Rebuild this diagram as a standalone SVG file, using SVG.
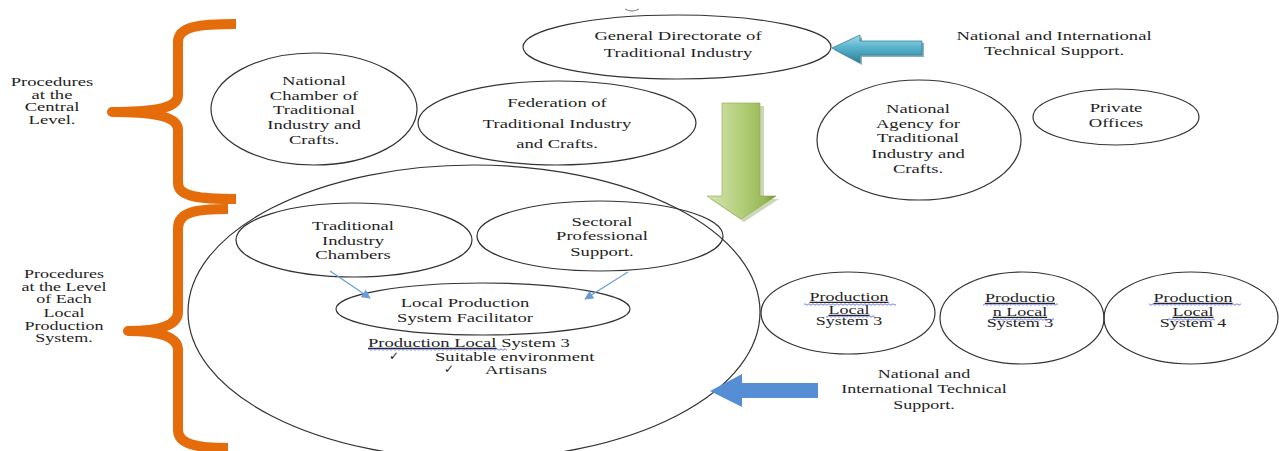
<svg xmlns="http://www.w3.org/2000/svg" width="1279" height="451" viewBox="0 0 1279 451">
<defs>
<style>
.t{font-family:"Liberation Serif","Times New Roman",serif;font-size:12px;fill:#1e1e1e;text-anchor:middle}
.ts{font-family:"Liberation Serif","Times New Roman",serif;font-size:12px;fill:#1e1e1e;text-anchor:start}
.ck{font-family:"DejaVu Sans",sans-serif;font-size:12px;fill:#1e1e1e}
.node{fill:none;stroke:#333;stroke-width:1.2}
.brace{fill:none;stroke:#E46C0A;stroke-width:10;stroke-linejoin:round}
.link{stroke:#6B9BD8;stroke-width:1.2;fill:none;marker-end:url(#ah)}
.u{text-decoration:underline}
</style>
<marker id="ah" viewBox="0 0 10 10" refX="9" refY="5" markerWidth="11" markerHeight="9" orient="auto" markerUnits="userSpaceOnUse"><path d="M0,0 L10,5 L0,10 z" fill="#6B9BD8"/></marker>
<pattern id="wv" width="4" height="3" patternUnits="userSpaceOnUse"><path d="M0,1.5 Q1,0 2,1.5 T4,1.5" fill="none" stroke="#3344dd" stroke-width="0.7"/></pattern>
<linearGradient id="gg" x1="0" y1="0" x2="1" y2="0"><stop offset="0" stop-color="#d6e6b4"/><stop offset="0.5" stop-color="#b2ce78"/><stop offset="0.85" stop-color="#98b756"/><stop offset="1" stop-color="#6e8e30"/></linearGradient>
<linearGradient id="tg" x1="0" y1="0" x2="0" y2="1"><stop offset="0" stop-color="#a2d8e8"/><stop offset="0.45" stop-color="#58b3cc"/><stop offset="1" stop-color="#2e8198"/></linearGradient>
</defs>
<rect width="1279" height="451" fill="#fff"/>

<g id="braces">
<path class="brace" d="M236,24 C200,24 178,26 178,42 L178,95 C178,107 160,112 112,112 C160,112 178,118 178,130 L178,183 C178,197 200,199 236,199"/>
<path class="brace" d="M228,209 C196,209 178,212 178,228 L178,312 C178,325 160,331 128,331 C160,331 178,337 178,350 L178,430 C178,444 196,448 228,448"/>
</g>

<path d="M625,9 Q632,13 639,9" fill="none" stroke="#777" stroke-width="1"/>

<g id="label-central"><text class="t" transform="translate(52 0) scale(1.55 1)"><tspan x="0" y="86">Procedures</tspan><tspan x="0" y="99">at the</tspan><tspan x="0" y="111">Central</tspan><tspan x="0" y="124">Level.</tspan></text></g>

<g id="label-local"><text class="t" transform="translate(64 0) scale(1.5 1)"><tspan x="0" y="278">Procedures</tspan><tspan x="0" y="291">at the Level</tspan><tspan x="0" y="303">of Each</tspan><tspan x="0" y="317">Local</tspan><tspan x="0" y="330">Production</tspan><tspan x="0" y="342">System.</tspan></text></g>

<g id="general-directorate"><ellipse class="node" cx="677" cy="47" rx="154" ry="32"/><text class="t" transform="translate(678 0) scale(1.55 1)"><tspan x="0" y="40">General Directorate of</tspan><tspan x="0" y="57">Traditional Industry</tspan></text></g>

<g id="national-chamber"><ellipse class="node" cx="314" cy="109" rx="103" ry="56"/><text class="t" transform="translate(314 0) scale(1.55 1)"><tspan x="0" y="85">National</tspan><tspan x="0" y="100">Chamber of</tspan><tspan x="0" y="114">Traditional</tspan><tspan x="0" y="129">Industry and</tspan><tspan x="0" y="144">Crafts.</tspan></text></g>

<g id="federation"><ellipse class="node" cx="557" cy="123" rx="139" ry="42"/><text class="t" transform="translate(557 0) scale(1.55 1)"><tspan x="0" y="107">Federation of</tspan><tspan x="0" y="128">Traditional Industry</tspan><tspan x="0" y="148">and Crafts.</tspan></text></g>

<g id="support-top"><text class="t" transform="translate(1054 0) scale(1.55 1)"><tspan x="0" y="40">National and International</tspan><tspan x="0" y="55">Technical Support.</tspan></text></g>

<g id="national-agency"><ellipse class="node" cx="919" cy="140" rx="102" ry="60"/><text class="t" transform="translate(918 0) scale(1.55 1)"><tspan x="0" y="113">National</tspan><tspan x="0" y="128">Agency for</tspan><tspan x="0" y="142">Traditional</tspan><tspan x="0" y="158">Industry and</tspan><tspan x="0" y="173">Crafts.</tspan></text></g>

<g id="private-offices"><ellipse class="node" cx="1116" cy="117" rx="83" ry="28"/><text class="t" transform="translate(1116 0) scale(1.55 1)"><tspan x="0" y="112">Private</tspan><tspan x="0" y="127">Offices</tspan></text></g>

<g id="local-system"><ellipse class="node" cx="474" cy="312" rx="286" ry="147"/>
<text class="ts" transform="translate(368 0) scale(1.55 1)"><tspan x="0" y="347" class="u">Production Local</tspan> System 3</text>
<rect x="368" y="348" width="139" height="3" fill="url(#wv)"/>
<text class="ck" x="389" y="360">✓</text>
<text class="ts" transform="translate(435 0) scale(1.55 1)"><tspan x="0" y="361">Suitable environment</tspan></text>
<text class="ck" x="444" y="373">✓</text>
<text class="ts" transform="translate(485 0) scale(1.55 1)"><tspan x="0" y="374">Artisans</tspan></text>
</g>

<g id="traditional-chambers"><ellipse class="node" cx="354" cy="240" rx="118" ry="37"/><text class="t" transform="translate(353 0) scale(1.55 1)"><tspan x="0" y="230">Traditional</tspan><tspan x="0" y="245">Industry</tspan><tspan x="0" y="259">Chambers</tspan></text></g>

<g id="sectoral-support"><ellipse class="node" cx="600" cy="236" rx="123" ry="35"/><text class="t" transform="translate(602 0) scale(1.55 1)"><tspan x="0" y="226">Sectoral</tspan><tspan x="0" y="240">Professional</tspan><tspan x="0" y="256">Support.</tspan></text></g>

<g id="facilitator"><ellipse class="node" cx="483" cy="309" rx="147" ry="26"/><text class="t" transform="translate(465 0) scale(1.55 1)"><tspan x="0" y="307">Local Production</tspan><tspan x="0" y="322">System Facilitator</tspan></text></g>

<g id="pls-1"><ellipse class="node" cx="848" cy="313" rx="87" ry="41"/><text class="t" transform="translate(849 0) scale(1.5 1)"><tspan x="0" y="301" class="u">Production</tspan><tspan x="0" y="314" class="u">Local</tspan><tspan x="0" y="325">System 3</tspan></text>
<rect x="804" y="303" width="92" height="3" fill="url(#wv)"/><rect x="826" y="315" width="49" height="3" fill="url(#wv)"/></g>

<g id="pls-2"><ellipse class="node" cx="1022" cy="318" rx="82" ry="46"/><text class="t" transform="translate(1020 0) scale(1.5 1)"><tspan x="0" y="302" class="u">Productio</tspan><tspan x="0" y="316" class="u">n Local</tspan><tspan x="0" y="327">System 3</tspan></text>
<rect x="983" y="303" width="75" height="3" fill="url(#wv)"/><rect x="991" y="318" width="63" height="3" fill="url(#wv)"/></g>

<g id="pls-3"><ellipse class="node" cx="1191" cy="318" rx="87" ry="46"/><text class="t" transform="translate(1193 0) scale(1.5 1)"><tspan x="0" y="302" class="u">Production</tspan><tspan x="0" y="316" class="u">Local</tspan><tspan x="0" y="327">System 4</tspan></text>
<rect x="1149" y="303" width="92" height="3" fill="url(#wv)"/><rect x="1168" y="318" width="47" height="3" fill="url(#wv)"/></g>

<g id="support-bottom"><text class="t" transform="translate(924 0) scale(1.5 1)"><tspan x="0" y="378">National and</tspan><tspan x="0" y="393">International Technical</tspan><tspan x="0" y="409">Support.</tspan></text></g>

<g id="connectors">
<line class="link" x1="330" y1="271" x2="370" y2="298"/>
<line class="link" x1="628" y1="272" x2="585" y2="299"/>
<polygon points="725,106 764,106 764,199 779,199 744,222 710,199 725,199" fill="#6f8b35" opacity="0.35"/>
<polygon points="722,103 760,103 760,196 776,196 741,219 707,196 722,196" fill="url(#gg)" stroke="#8aa84a" stroke-width="0.6"/>
<polygon points="834,50 862,37 862,43 924,43 924,57 862,57 862,65" fill="#1f5f70" opacity="0.5"/>
<polygon points="832,48 860,35 860,41 922,41 922,55 860,55 860,63" fill="url(#tg)" stroke="#31859c" stroke-width="0.8"/>
<polygon points="710,391 742,374 742,383 818,383 818,398 742,398 742,407" fill="#558ED5"/>
</g>
</svg>
